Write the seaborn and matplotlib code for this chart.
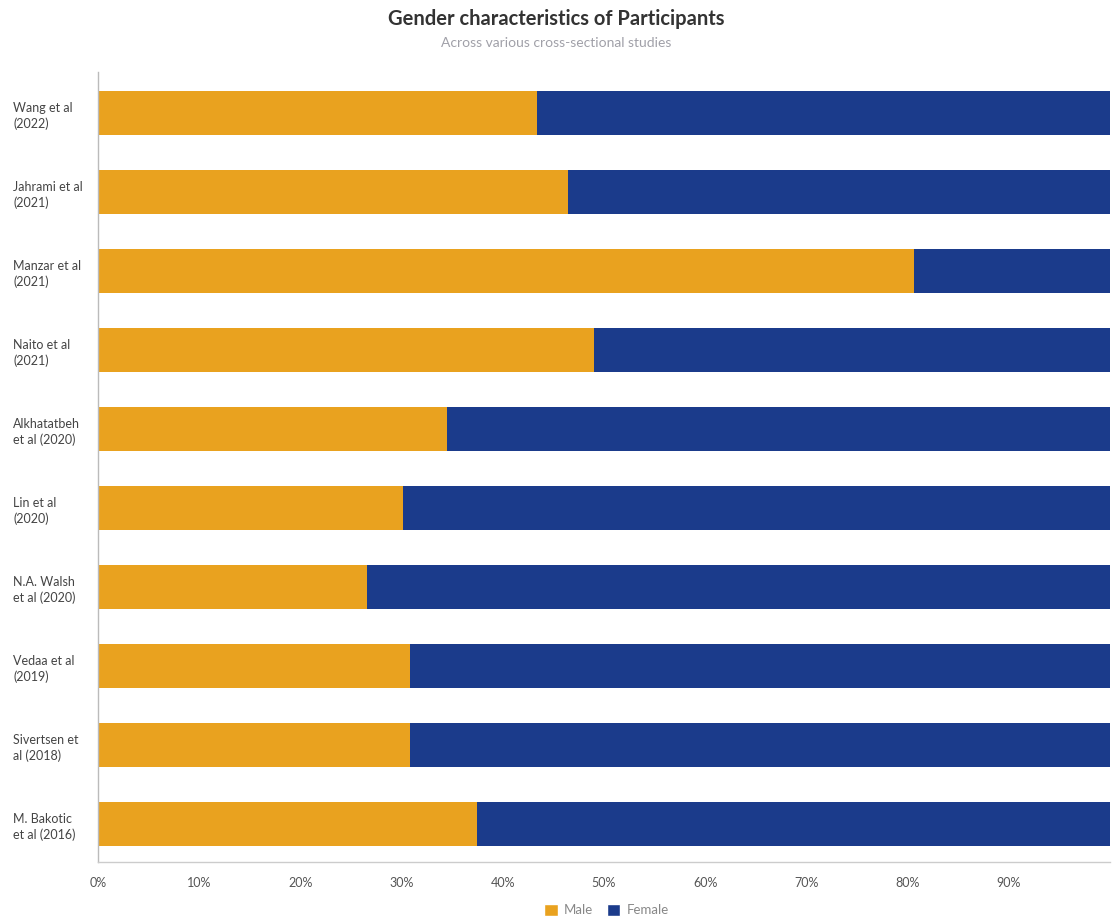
import matplotlib
matplotlib.use("Agg")
import matplotlib.pyplot as plt
import seaborn as sns
import pandas as pd
import numpy as np
from matplotlib.patches import Patch

studies = ["Wang et al\n(2022)", "Jahrami et al\n(2021)", "Manzar et al\n(2021)", "Naito et al\n(2021)",
           "Alkhatatbeh\net al (2020)", "Lin et al\n(2020)", "N.A. Walsh\net al (2020)", "Vedaa et al\n(2019)",
           "Sivertsen et\nal (2018)", "M. Bakotic\net al (2016)"]
male = [43.4, 46.4, 80.6, 49.0, 34.5, 30.1, 26.6, 30.8, 30.8, 37.5]
female = [100 - m for m in male]
xticks = [0, 10, 20, 30, 40, 50, 60, 70, 80, 90]
xticklabels = [f"{t}%" for t in xticks]

MALE_C = "#E9A21F"
FEMALE_C = "#1B3B8B"

sns.set_theme(style="white")
plt.rcParams['font.family'] = ['Lato', 'DejaVu Sans']

df = pd.DataFrame({"study": studies, "male": male, "female": female})
df["total"] = df["male"] + df["female"]

fig = plt.figure(figsize=(11.13, 9.22), dpi=100)
ax = fig.add_axes([0.088, 0.065, 0.9093, 0.857])

sns.barplot(data=df, y="study", x="total", color=FEMALE_C, orient="h", width=0.56,
            ax=ax, saturation=1, linewidth=0)
sns.barplot(data=df, y="study", x="male", color=MALE_C, orient="h", width=0.56,
            ax=ax, saturation=1, linewidth=0)

ax.set_xlim(0, 100)
ax.set_ylim(9.48, -0.52)
ax.set_xlabel("")
ax.set_ylabel("")
ax.set_xticks(xticks)
ax.set_xticklabels(xticklabels, fontsize=9, color="#555555")
ax.set_xticks([5, 15, 25, 35, 45, 55, 65, 75, 85, 95], minor=True)
ax.tick_params(axis="x", which="major", length=4, color="#cccccc", direction="in", pad=11)
ax.tick_params(axis="x", which="minor", length=2, color="#dddddd", direction="in")
ax.tick_params(axis="y", length=4, color="#cccccc", direction="out", pad=57)
for lbl in ax.get_yticklabels():
    lbl.set_horizontalalignment("left")
    lbl.set_fontsize(9)
    lbl.set_color("#444444")
    lbl.set_linespacing(1.35)

for s in ["top", "right"]:
    ax.spines[s].set_visible(False)
ax.spines["left"].set_color("#bbbbbb")
ax.spines["bottom"].set_color("#cccccc")
ax.spines["left"].set_linewidth(1)
ax.spines["bottom"].set_linewidth(1)

fig.text(0.5, 0.979, "Gender characteristics of Participants", ha="center", va="center",
         fontsize=14.5, fontweight="bold", color="#333333")
fig.text(0.5, 0.953, "Across various cross-sectional studies", ha="center", va="center",
         fontsize=10, color="#a0a0a8")

handles = [Patch(facecolor=MALE_C, label="Male"), Patch(facecolor=FEMALE_C, label="Female")]
fig.legend(handles=handles, loc="center", bbox_to_anchor=(0.545, 0.013), ncol=2, frameon=False,
           fontsize=9.5, handlelength=1.0, handleheight=1.0, handletextpad=0.5, columnspacing=1.0,
           labelcolor="#888888")

fig.savefig("out.png", dpi=100, facecolor="white")
